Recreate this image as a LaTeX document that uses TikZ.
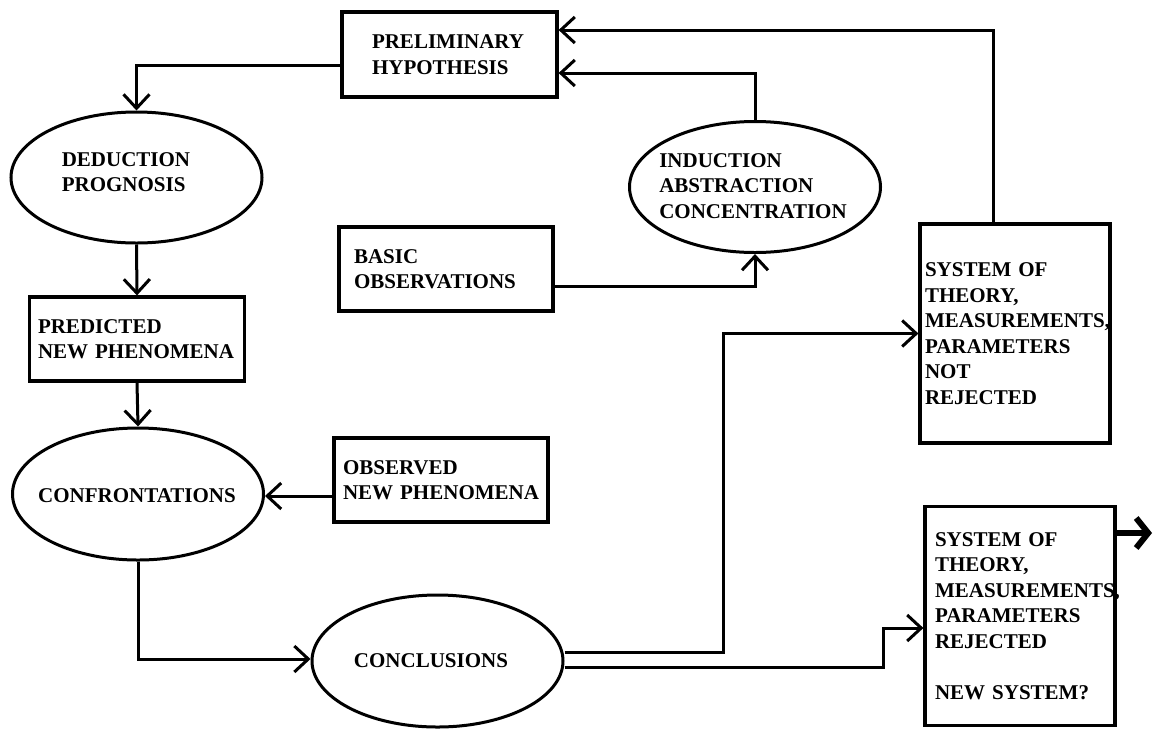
\documentclass[tikz,border=0pt]{standalone}
\usepackage{fontspec}
\setmainfont{Liberation Serif}
\usetikzlibrary{shapes.geometric,arrows.meta}
\newcommand\dgfont{\fontsize{21}{25.5}\selectfont\bfseries}
\begin{document}
\begin{tikzpicture}[x=1pt,y=-1pt,
  box/.style={draw, rectangle, line width=3.2pt, inner sep=0pt, align=left, font=\dgfont},
  ell/.style={draw, ellipse, line width=3pt, inner sep=0pt, minimum width=251pt, minimum height=131pt},
  lbl/.style={align=left, inner sep=0pt, font=\dgfont},
  arr/.style={line width=3pt, -{Straight Barb[length=14pt,width=26pt]}},
  thickarr/.style={line width=6pt, -{Straight Barb[length=12pt,width=30pt]}}]
\useasboundingbox (0,0) rectangle (1153,729);
% boxes
\node[box, minimum width=215pt, minimum height=85pt, text width=155pt] (pre) at (449.5,54.5) {PRELIMINARY\\HYPOTHESIS\\[-3pt]};
\node[box, minimum width=215pt, minimum height=84pt, text width=198pt] (pred) at (137,339) {PREDICTED\\NEW PHENOMENA};
\node[box, minimum width=214pt, minimum height=84pt, text width=184pt] (basic) at (446,269) {BASIC\\OBSERVATIONS};
\node[box, minimum width=214pt, minimum height=84pt, text width=196pt] (obs) at (441,480) {OBSERVED\\NEW PHENOMENA};
\node[box, minimum width=190pt, minimum height=219pt, text width=180pt] (sysA) at (1015,333.5) {SYSTEM OF\\THEORY,\\MEASUREMENTS,\\PARAMETERS\\NOT\\REJECTED};
\node[box, minimum width=190pt, minimum height=219pt, text width=170pt] (rej) at (1020,616) {SYSTEM OF\\THEORY,\\MEASUREMENTS,\\PARAMETERS\\REJECTED\\[25.5pt]NEW SYSTEM?\\[-6pt]};
% ellipses
\node[ell] (ded) at (136.5,177.5) {};
\node[lbl] (dedT) at (126,172) {DEDUCTION\\PROGNOSIS};
\node[ell] (ind) at (755,187) {};
\node[lbl] (indT) at (753,186) {INDUCTION\\ABSTRACTION\\CONCENTRATION};
\node[ell, minimum height=132pt] (conf) at (138,494) {};
\node[lbl] (confT) at (137,495.5) {CONFRONTATIONS};
\node[ell, minimum height=132pt] (concl) at (437.5,661) {};
\node[lbl] (conclT) at (431,661) {CONCLUSIONS};
% connectors
\draw[arr] ([yshift=-10.5pt]pre.west) -| (ded.north);
\draw[arr] (ded.south) -- (pred.north);
\draw[arr] (pred.south) -- (conf.north);
\draw[arr] ([yshift=-2pt]obs.west |- conf.east) -- ([yshift=-2pt]conf.east);
\draw[arr] (conf.south) |- ([yshift=2pt]concl.west);
\draw[arr] ([yshift=-17pt]basic.east) -| (ind.south);
\draw[arr] (ind.north) |- ([yshift=-18.5pt]pre.east);
\draw[arr] ([xshift=-22pt]sysA.north) |- ([yshift=24.5pt]pre.east);
\draw[arr] ([yshift=9pt]concl.east) -| ([xshift=-195pt]sysA.west) -- (sysA.west);
\draw[arr] ([yshift=-6pt]concl.east) -| ([xshift=-40pt,yshift=-12pt]rej.west) -- ([yshift=-12pt]rej.west);
\coordinate (out) at (1152,533);
\draw[thickarr] (rej.east |- out) -- (out);
\end{tikzpicture}
\end{document}
